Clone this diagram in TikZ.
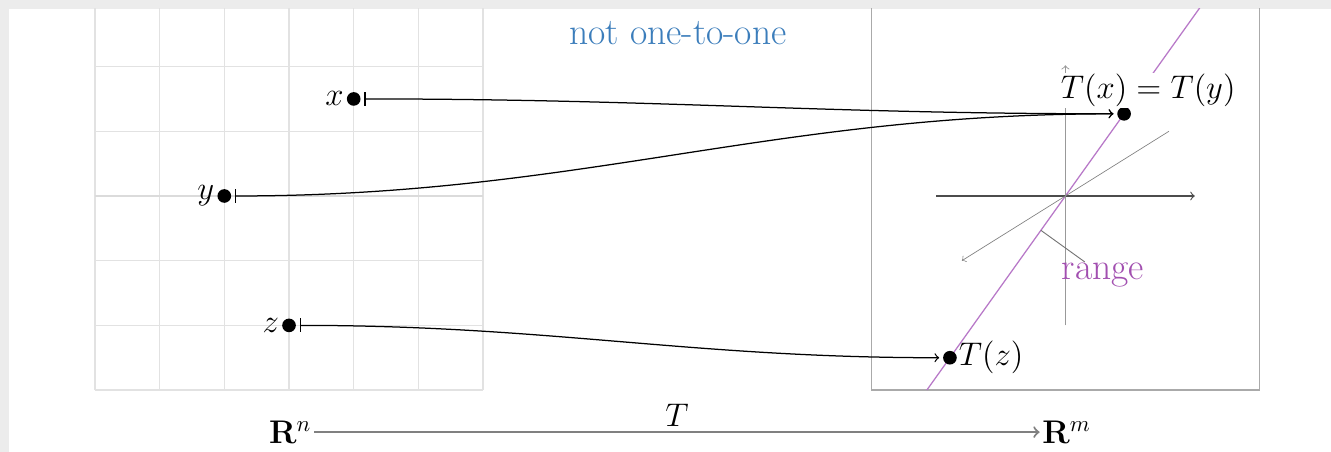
\documentclass[tikz,border=0pt]{standalone}
\usepackage{amsmath}
\definecolor{framegray}{HTML}{ECECEC}
\definecolor{gridgray}{HTML}{E2E2E2}
\definecolor{boxgray}{HTML}{AAAAAA}
\definecolor{textblue}{HTML}{3B7DBB}
\definecolor{rangepurple}{HTML}{A24FB0}
\definecolor{rangeline}{HTML}{B878C8}
\tikzset{
  dot/.style={circle,fill=black,inner sep=0pt,minimum size=6pt},
  lbl/.style={inner sep=1pt,font=\Large},
  mapsto/.style={|->,line width=0.55pt,shorten <=1.5pt,shorten >=1.5pt},
  gridline/.style={gridgray,line width=0.6pt},
  axisstyle/.style={->,line width=0.5pt},
  bigtext/.style={font=\fontsize{16.5}{19}\selectfont}
}
\begin{document}
\begin{tikzpicture}[x=1cm,y=1cm]
\useasboundingbox (-4.467,-3.957) rectangle (16.105,3.029);
\fill[framegray] (-4.467,-3.957) rectangle (16.105,3.029);
\fill[white] (-4.328,-3.957) rectangle (16.105,2.890);
\begin{scope}
\clip (-4.328,-3.957) rectangle (16.105,2.890);
% left grid
\draw[gridline] (-3,-3) grid (3,3);
\draw[gray!28,line width=0.6pt] (-3,0) -- (3,0);
% right box
\draw[boxgray,line width=0.7pt] (9,-3) rectangle (15,3);
% range line
\draw[rangeline,line width=0.55pt] (12,0) ++(-2.142,-3) -- ++(4.284,6);
% axes
\coordinate (o) at (12,0);
\coordinate (hl) at (10,0);
\coordinate (hr) at (14,0);
\coordinate (vb) at (12,-2);
\coordinate (vt) at (12,2.02);
\coordinate (dl) at (10.4,-1.0);
\coordinate (du) at (13.6,1.0);
\draw[axisstyle,black!70] (hl) -- (hr);
\draw[axisstyle,black!40,line width=0.4pt] (vb) -- (vt);
\draw[axisstyle,black!50,line width=0.3pt] (du) -- (dl);
% range label
\coordinate (rp) at (11.62,-0.53);
\node[text=rangepurple,bigtext,inner sep=1pt] (rangelbl) at (12.58,-1.22) {range};
\draw[black!55,line width=0.4pt] (rp) -- (12.30,-1.02);
\end{scope}
% title
\node[text=textblue,bigtext] (title) at (6.01,2.52) {not one-to-one};
% points
\node[dot] (px) at (1,1.5) {};
\node[dot] (py) at (-1,0) {};
\node[dot] (pz) at (0,-2) {};
\node[lbl,anchor=east] (lx) at (px.west) {$x$};
\node[lbl,anchor=east] (ly) at (py.west) {$y$};
\node[lbl,anchor=east] (lz) at (pz.west) {$z$};
\node[dot] (tx) at (12.907,1.27) {};
\node[dot] (tz) at (10.215,-2.5) {};
\node[lbl,fill=white,inner sep=0.3pt] (ltx) at (13.28,1.63) {$T(x)=T(y)$};
\node[lbl,anchor=west,inner sep=0.5pt] (ltz) at (tz.east) {$T(z)$};
% maps
\draw[mapsto] (px) to[out=0,in=180] (tx);
\draw[mapsto] (py) to[out=0,in=180] (tx);
\draw[mapsto] (pz) to[out=0,in=180] (tz);
% bottom
\node[font=\Large,inner sep=1pt] (rn) at (0.02,-3.65) {$\mathbf{R}^n$};
\node[font=\Large,inner sep=1pt] (rm) at (12.02,-3.65) {$\mathbf{R}^m$};
\draw[->,black!50,line width=0.9pt] (rn) -- node[above,font=\Large,text=black,inner sep=2pt] (tlbl) {$T$} (rm);
\end{tikzpicture}
\end{document}
